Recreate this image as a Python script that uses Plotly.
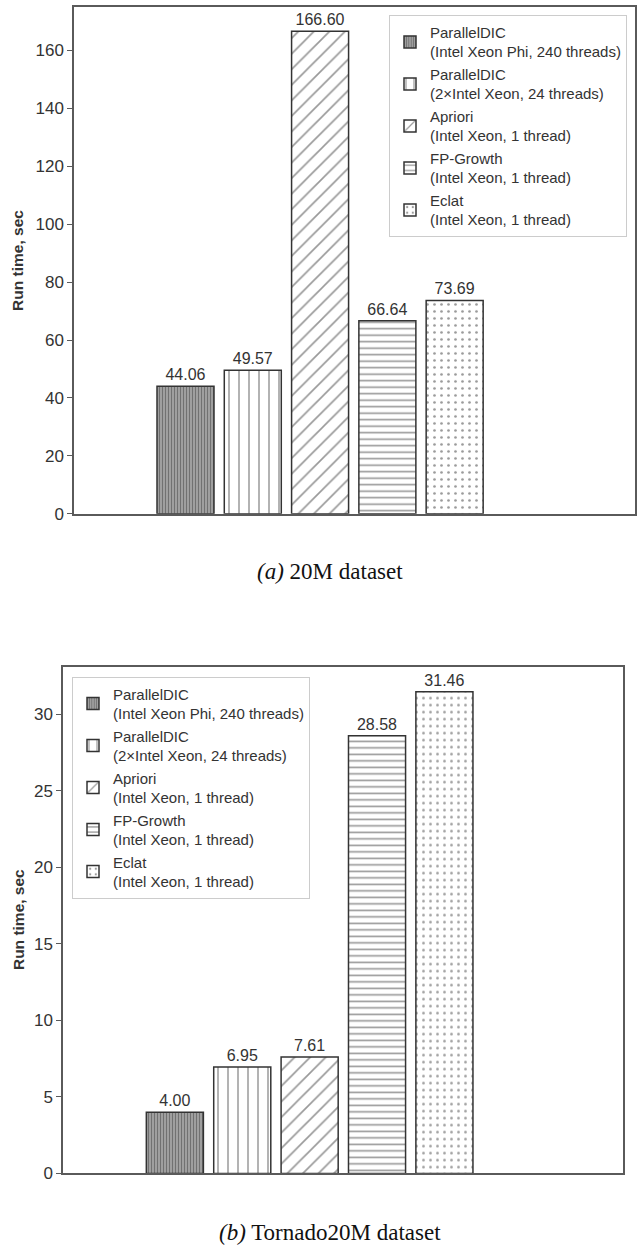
import plotly.graph_objects as go

methods = [
    "ParallelDIC<br>(Intel Xeon Phi, 240 threads)",
    "ParallelDIC<br>(2×Intel Xeon, 24 threads)",
    "Apriori<br>(Intel Xeon, 1 thread)",
    "FP-Growth<br>(Intel Xeon, 1 thread)",
    "Eclat<br>(Intel Xeon, 1 thread)",
]
values_20m = [44.06, 49.57, 166.60, 66.64, 73.69]
values_tornado = [4.00, 6.95, 7.61, 28.58, 31.46]
ticks_20m = [0, 20, 40, 60, 80, 100, 120, 140, 160]
ticks_tornado = [0, 5, 10, 15, 20, 25, 30]
captions = ["<i>(a)</i> 20M dataset", "<i>(b)</i> Tornado20M dataset"]

W, H = 643, 1245
patterns = [
    dict(shape="|", size=3, solidity=0.45, fgcolor="#3a3a3a", bgcolor="#a8a8a8"),
    dict(shape="|", size=10, solidity=0.15, fgcolor="#333333", bgcolor="white"),
    dict(shape="/", size=11, solidity=0.15, fgcolor="#333333", bgcolor="white"),
    dict(shape="-", size=6.5, solidity=0.25, fgcolor="#333333", bgcolor="white"),
    dict(shape=".", size=7, solidity=0.12, fgcolor="#333333", bgcolor="white"),
]

FONT = "Liberation Sans, Arial, sans-serif"
fig = go.Figure()

for panel, (vals, xa, ya, lg) in enumerate([
    (values_20m, "x", "y", "legend"),
    (values_tornado, "x2", "y2", "legend2"),
]):
    for i, (name, v) in enumerate(zip(methods, vals)):
        fig.add_trace(go.Bar(
            x=[i], y=[v], width=0.847, name=name,
            xaxis=xa, yaxis=ya, legend=lg,
            marker=dict(color="white", pattern=patterns[i],
                        line=dict(color="#333333", width=1.5)),
            text=[f"{v:.2f}"], textposition="outside",
            textfont=dict(family=FONT, size=16, color="#333333"),
            constraintext="none", cliponaxis=False,
        ))

axis_common = dict(showline=True, mirror=True, linecolor="#5a5a5a", linewidth=1.5,
                   showgrid=False, zeroline=False)

legend_common = dict(bgcolor="white", bordercolor="#cccccc", borderwidth=1,
                     font=dict(family=FONT, size=15, color="#333333"),
                     tracegroupgap=0, traceorder="normal")

fig.update_layout(
    width=W, height=H,
    margin=dict(l=0, r=0, t=0, b=0),
    paper_bgcolor="white", plot_bgcolor="white",
    barmode="overlay",
    font=dict(family=FONT, color="#333333"),
    xaxis=dict(domain=[74 / W, 635 / W], range=[-1.657, 6.68], showticklabels=False,
               ticks="", anchor="y", **axis_common),
    yaxis=dict(domain=[1 - 518 / H, 1 - 7 / H], range=[0, 175], tickvals=ticks_20m,
               ticks="outside", ticklen=5, tickcolor="#5a5a5a",
               tickfont=dict(size=17, color="#333333"), anchor="x", **axis_common),
    xaxis2=dict(domain=[63 / W, 623 / W], range=[-1.66, 6.65], showticklabels=False,
                ticks="", anchor="y2", **axis_common),
    yaxis2=dict(domain=[1 - 1183 / H, 1 - 672 / H], range=[0, 33.1], tickvals=ticks_tornado,
                ticks="outside", ticklen=5, tickcolor="#5a5a5a",
                tickfont=dict(size=17, color="#333333"), anchor="x2", **axis_common),
    legend=dict(x=627 / W, xanchor="right", y=1 - 15 / H, yanchor="top", **legend_common),
    legend2=dict(x=72 / W, xanchor="left", y=1 - 682 / H, yanchor="top", **legend_common),
    showlegend=True,
)

for yc in [263 / H, 927.5 / H]:
    fig.add_annotation(text="<b>Run time, sec</b>", textangle=-90, xref="paper", yref="paper",
                       x=18 / W, y=1 - yc, xanchor="center", yanchor="middle",
                       showarrow=False,
                       font=dict(family=FONT, size=15.5, color="#333333"))

for txt, yc in zip(captions, [576 / H, 1242 / H]):
    fig.add_annotation(text=txt, xref="paper", yref="paper", x=330 / W, y=1 - yc,
                       xanchor="center", yanchor="middle", showarrow=False,
                       font=dict(family="Liberation Serif, Times New Roman, serif",
                                 size=23, color="#111111"))

fig.write_html("out.html")
